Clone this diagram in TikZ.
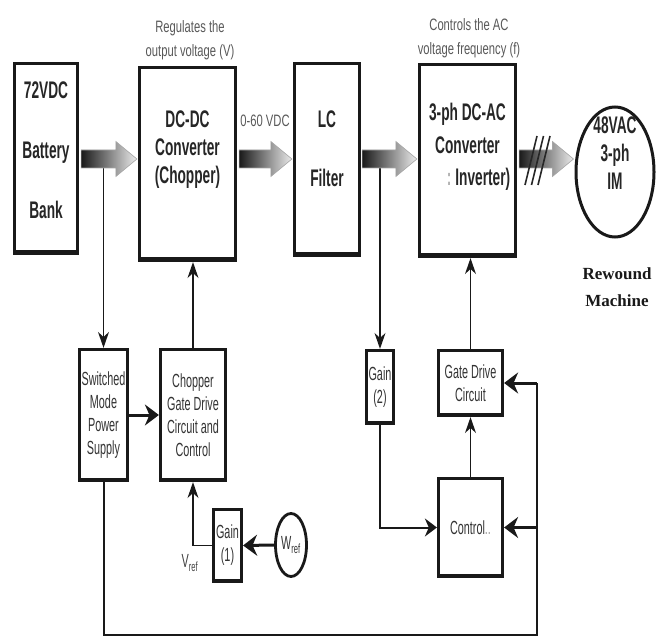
\documentclass[tikz,border=0pt]{standalone}
\usepackage{fontspec}
\setmainfont{Liberation Sans}
\newfontfamily\narrowsf{Liberation Sans}[FakeStretch=0.57]
\newfontfamily\notesf{Liberation Sans}[FakeStretch=0.68]
\newfontfamily\machinefont{Liberation Serif}
\usetikzlibrary{arrows.meta,calc,shapes.geometric}

\begin{document}
\begin{tikzpicture}[
    x=1pt, y=-1pt,
    >=Stealth,
    blk/.style={draw=black!90, line width=3.2pt, inner sep=0pt, align=center,
        path picture={\fill[black!90] (path picture bounding box.south west) rectangle ([yshift=3pt]path picture bounding box.south east);}},
    bigtxt/.style={font=\narrowsf\bfseries\fontsize{24}{28}\selectfont, text=black!85, align=center},
    smalltxt/.style={font=\narrowsf\fontsize{19}{23}\selectfont, text=black!80},
    note/.style={font=\notesf\fontsize{16.5}{24}\selectfont, text=black!65, align=center},
    thinarr/.style={line width=1.5pt, black!90, -{Stealth[length=16pt, width=11pt]}},
    medarr/.style={line width=2pt, black!90, -{Stealth[length=12pt, width=18pt]}},
    boldarr/.style={line width=3pt, black!90, -{Stealth[length=14pt, width=21pt]}},
    wire/.style={line width=2pt, black!90},
    fatarr/.style={draw=gray!70, line width=0.6pt, left color=black!90, middle color=gray!55, right color=gray!15,
        to path={let \p1=(\tikztostart), \p2=(\tikztotarget) in
            (\x1,{\y1+9pt}) -- ({\x2-21pt},{\y1+9pt}) -- ({\x2-21pt},{\y1+17.5pt}) -- (\x2,\y1)
            -- ({\x2-21pt},{\y1-17.5pt}) -- ({\x2-21pt},{\y1-9pt}) -- (\x1,{\y1-9pt}) -- cycle}}
]
    \useasboundingbox (0,0) rectangle (656,639);

    \node[blk, minimum width=63pt, minimum height=190pt] (bat) at (46,158.5) {};
    \node[blk, minimum width=96pt, minimum height=193pt] (dcdc) at (187.5,164) {};
    \node[blk, minimum width=65pt, minimum height=192pt] (lc) at (327,159.5) {};
    \node[blk, minimum width=96pt, minimum height=192pt] (inv) at (467.5,160.5) {};
    \node[draw=black!90, ellipse, line width=3pt, minimum width=78pt, minimum height=130pt, inner sep=0pt] (im) at (615,172) {};

    \node[bigtxt] (battxt) at (46,150) {72VDC\\[32pt]Battery\\[32pt]Bank};
    \node[bigtxt] (dcdctxt) at (187.5,150) {DC-DC\\Converter\\(Chopper)};
    \node[bigtxt] (lctxt) at (327,148.5) {LC\\[31pt]Filter};
    \node[bigtxt, font=\narrowsf\bfseries\fontsize{24}{32.5}\selectfont] (invtxt) at (467.5,147) {3-ph DC-AC\\Converter\\\hspace*{22pt}\textcolor{black!30}{:}\,Inverter)};
    \node[bigtxt] (imtxt) at (615,153) {48VAC\\3-ph\\IM};
    \node[font=\machinefont\bfseries\fontsize{17}{27}\selectfont, align=center, text=black!90] (rw) at (617,287) {Rewound\\Machine};

    \node[note] (reg) at (190,40) {Regulates the\\output voltage (V)};
    \node[note] (vdc) at (265,121) {0-60 VDC};
    \node[note] (ctl) at (469,38) {Controls the AC\\voltage frequency (f)};

    \node[blk, smalltxt, minimum width=48pt, minimum height=131pt] (smps) at (103.5,415) {Switched\\Mode\\Power\\Supply};
    \node[blk, smalltxt, minimum width=65pt, minimum height=131pt] (chop) at (193,415) {Chopper\\Gate Drive\\Circuit and\\Control};
    \node[blk, smalltxt, minimum width=28pt, minimum height=72pt] (gain1) at (227.5,545.5) {Gain\\(1)};
    \node[draw=black!90, ellipse, line width=2.8pt, minimum width=31pt, minimum height=63pt, inner sep=0pt, smalltxt] (wref) at (291,545) {W\textsubscript{ref}};
    \node[smalltxt, text=black!75] (vref) at (190,563) {V\textsubscript{ref}};
    \node[blk, smalltxt, minimum width=27pt, minimum height=73pt] (gain2) at (380,387) {Gain\\(2)};
    \node[blk, smalltxt, minimum width=64pt, minimum height=65pt] (gate) at (470.5,383) {Gate Drive\\Circuit};
    \node[blk, smalltxt, minimum width=64pt, minimum height=98pt] (ctrl) at (470.5,527.5) {Control\textcolor{black!40}{..}};

    \coordinate (row) at (0,159);
    \coordinate (fb) at (537,635);

    \draw[thinarr] (smps.north |- row) -- (smps.north);
    \draw[thinarr] (gain2.north |- row) -- (gain2.north);

    \path[fatarr] ($(bat.east |- row)+(2,0)$) to ($(dcdc.west |- row)+(-1,0)$);
    \path[fatarr] ($(dcdc.east |- row)+(2,0)$) to ($(lc.west |- row)+(-1,0)$);
    \path[fatarr] ($(lc.east |- row)+(1,0)$) to ($(inv.west |- row)+(-1,0)$);
    \path[fatarr] ($(inv.east |- row)+(2,0)$) to ($(im.west |- row)+(-1,0)$);
    \foreach \s in {0,6.5,13}
        \draw[line width=1.6pt, black!85] ({525+\s},185) -- ({537+\s},136);

    \draw[thinarr] (chop.north) -- (chop.north |- dcdc.south);
    \draw[boldarr] (smps.east) -- (chop.west);
    \draw[boldarr] (wref.west) -- (gain1.east);
    \draw[thinarr] (gain1.west) -| (chop.south);
    \draw[medarr] (gain2.south) |- (ctrl.west);
    \draw[thinarr] (ctrl.north) -- (gate.south);
    \draw[thinarr] (gate.north) -- (gate.north |- inv.south);
    \draw[wire] (smps.south) |- (fb) -- (fb |- gate.east);
    \draw[boldarr] (fb |- gate.east) -- (gate.east);
    \draw[boldarr] (fb |- ctrl.east) -- (ctrl.east);
\end{tikzpicture}
\end{document}
